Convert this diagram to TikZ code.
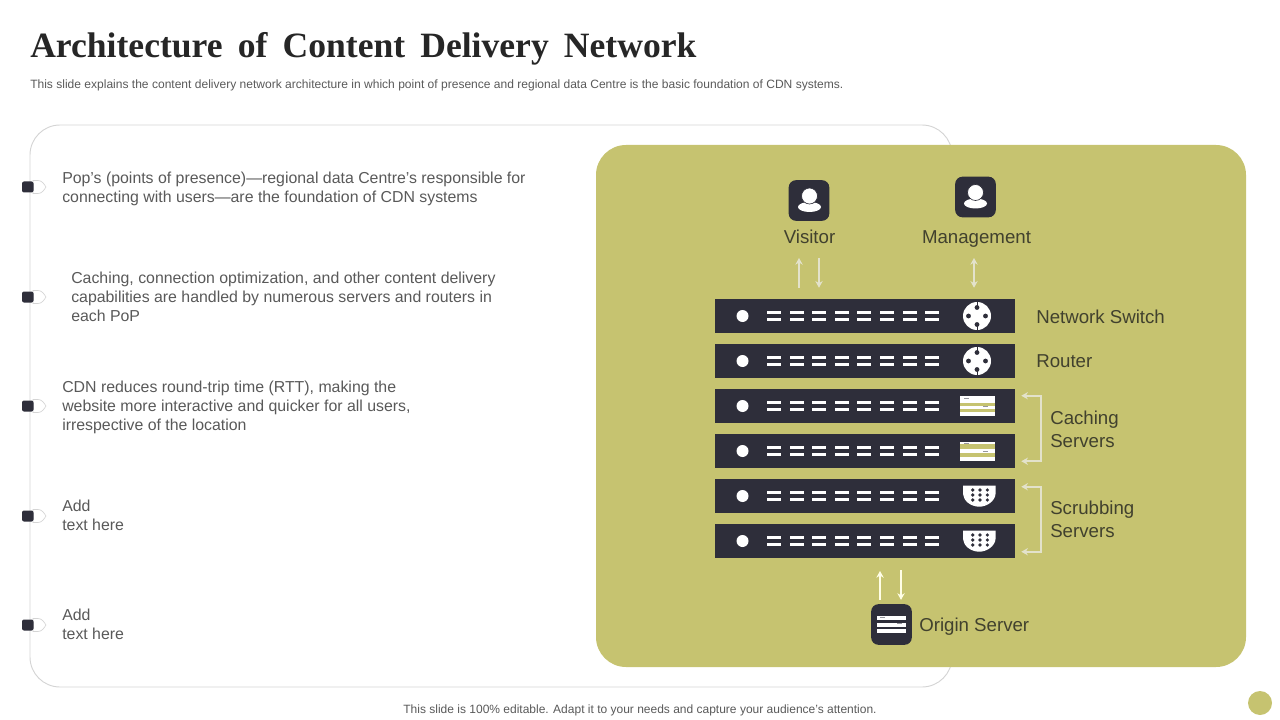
\documentclass[tikz,border=0pt]{standalone}
\usepackage{fontspec}
\usetikzlibrary{arrows.meta}
\setmainfont{Liberation Sans}
\newfontfamily\titlefont[WordSpace=1.7]{Liberation Serif}
\newcommand{\apos}{\symbol{39}}
\definecolor{inkdark}{HTML}{2E2E3A}
\definecolor{olivepanel}{HTML}{C6C370}
\definecolor{bodygray}{HTML}{595959}
\definecolor{labelink}{HTML}{41412E}
\definecolor{palearrow}{HTML}{E3E2CB}
\tikzset{
  bodytext/.style={anchor=north west,inner sep=0pt,align=left,text=bodygray,font=\fontsize{11.9}{14.25}\selectfont},
  paneltext/.style={inner sep=0pt,align=left,text=labelink,font=\fontsize{14}{17.25}\selectfont},
  rackbox/.style={fill=inkdark,minimum width=225pt,minimum height=25.5pt,inner sep=0pt},
  iconbox/.style={fill=inkdark,rounded corners=5.5pt,minimum width=30.5pt,minimum height=30.5pt,inner sep=0pt},
  flow/.style={draw=palearrow,line width=1.4pt,>={Stealth[width=5.5pt,length=5pt]}},
  whiteflow/.style={draw=white!90!yellow,line width=1.4pt,>={Stealth[width=5.5pt,length=5pt]}},
}
\begin{document}
\begin{tikzpicture}[x=0.75pt,y=-0.75pt]
  \useasboundingbox (0,0) rectangle (1280,720);

  \node[anchor=west,inner sep=0pt,text=black!85,font=\titlefont\bfseries\fontsize{26.7}{30}\selectfont] (title) at (30,49) {Architecture of Content Delivery Network};
  \node[anchor=west,inner sep=0pt,text=bodygray,font=\fontsize{9.03}{11}\selectfont] (subtitle) at (30,85) {This slide explains the content delivery network architecture in which point of presence and regional data Centre is the basic foundation of CDN systems.};
  \node[inner sep=0pt,text=bodygray,font=\fontsize{9}{11}\selectfont] (footer) at (640,710) {This slide is 100\% editable. Adapt it to your needs and capture your audience\apos s attention.};
  \fill[olivepanel] (1260,703) circle [radius=12];

  % left frame and panel
  \draw[black!17,line width=0.7pt,rounded corners=22.5pt] (30,125) rectangle (952,687);
  \fill[olivepanel,rounded corners=22.5pt] (596,145) rectangle (1246,667);

  % bullets
  \foreach \y in {187,297,406,516,625}{
    \draw[black!17,fill=white,line width=0.5pt] (33,\y-6.5) -- (38,\y-6.5) .. controls (42,\y-6.5) and (44,\y-3) .. (46,\y) .. controls (44,\y+3) and (42,\y+6.5) .. (38,\y+6.5) -- (33,\y+6.5) -- cycle;
    \fill[inkdark,rounded corners=1.5pt] (22,\y-5.5) rectangle (33.5,\y+5.5);
  }

  \node[bodytext] (popA) at (62,172) {Pop\apos s (points of presence)---regional data Centre\apos s responsible for\\connecting with users---are the foundation of CDN systems};
  \node[bodytext] (popB) at (71,272) {Caching, connection optimization, and other content delivery\\capabilities are handled by numerous servers and routers in\\each PoP};
  \node[bodytext] (popC) at (62,381) {CDN reduces round-trip time (RTT), making the\\website more interactive and quicker for all users,\\irrespective of the location};
  \node[bodytext] (popD) at (62,500) {Add\\text here};
  \node[bodytext] (popE) at (62,609) {Add\\text here};

  % racks
  \foreach \i/\y in {1/316,2/361,3/406,4/451,5/496,6/541}{
    \node[rackbox] (rack\i) at (865,\y) {};
    \fill[white] (742.5,\y) circle [radius=6];
    \foreach \k in {0,...,7}{
      \fill[white] (767+22.6*\k,\y-5.2) rectangle ++(14,3.6);
      \fill[white] (767+22.6*\k,\y+1.6) rectangle ++(14,3.6);
    }
  }

  % switch icons
  \foreach \y in {316,361}{
    \fill[white] (977,\y) circle [radius=14];
    \foreach \a in {0,90,180,270}{
      \fill[inkdark] (977,\y) ++(\a:8.5) circle [radius=2.4];
    }
    \draw[inkdark,line width=0.5pt] (977,\y-14) -- (977,\y-9) (977,\y+9) -- (977,\y+14);
  }

  % server icons
  \foreach \y/\ya/\yb/\yc/\yd in {406/-10/-3.5/0/3,451/-9.3/-6.6/-2/2.3}{
    \fill[olivepanel] (960,\y+\ya) rectangle (995,\y+10);
    \fill[white] (960,\y+\ya) rectangle (995,\y+\yb);
    \fill[white] (960,\y+\yc) rectangle (995,\y+\yd);
    \fill[white] (960,\y+6) rectangle (995,\y+10);
    \fill[inkdark!50] (964,\y-8) rectangle ++(5,1);
    \fill[inkdark!50] (983,\y) rectangle ++(5,1);
  }

  % shield icons
  \foreach \y in {496,541}{
    \fill[white] (963,\y-10.3) -- (995.5,\y-10.3) -- (995.5,\y-2) .. controls (995,\y+5) and (987,\y+10.7) .. (979.3,\y+10.7) .. controls (971,\y+10.7) and (963.5,\y+5) .. (963,\y-2) -- cycle;
    \foreach \r in {-6,-1,4}{
      \foreach \c in {972.7,980,987.3}{
        \fill[inkdark] (\c,\y+\r) circle [radius=1.8];
      }
    }
  }

  % top and bottom boxes
  \node[iconbox] (visitorBox) at (809,200.5) {};
  \node[iconbox] (managementBox) at (975.5,197) {};
  \node[iconbox] (originBox) at (891.5,624.5) {};
  \foreach \x/\y in {809.5/196,975.5/192.5}{
    \fill[white] (\x,\y+11) ellipse [x radius=11.5,y radius=5];
    \draw[inkdark,fill=white,line width=0.5pt] (\x,\y) circle [radius=8];
  }
  \foreach \y in {616,622.7,629.3}{
    \fill[white] (877,\y) rectangle (906,\y+4);
  }
  \fill[inkdark!50] (880,616.5) rectangle ++(5,1);
  \fill[inkdark!50] (897,623.2) rectangle ++(5,1);

  \node[paneltext] (visitorLabel) at (809.5,237) {Visitor};
  \node[paneltext] (managementLabel) at (976.5,239) {Management};
  \node[paneltext,anchor=west] (switchLabel) at (1036,316.5) {Network Switch};
  \node[paneltext,anchor=west] (routerLabel) at (1036,361.5) {Router};
  \node[paneltext,anchor=west] (cachingLabel) at (1050,429) {Caching\\Servers};
  \node[paneltext,anchor=west] (scrubbingLabel) at (1050,519) {Scrubbing\\Servers};
  \node[paneltext,anchor=west] (originLabel) at (919,627) {Origin Server};

  % connectors
  \coordinate (visitorUp) at (799,258);
  \coordinate (visitorDown) at (819,258);
  \coordinate (managementTop) at (974,258);
  \coordinate (originUp) at (880,571);
  \coordinate (originDown) at (901,570);
  \draw[flow,->] (visitorUp |- rack1.north) ++(0,-11) -- (visitorUp);
  \draw[flow,->] (visitorDown) -- ([yshift=8.25pt]visitorDown |- rack1.north);
  \draw[flow,<->] (managementTop) -- ([yshift=8.25pt]managementTop |- rack1.north);
  \draw[whiteflow,->] (originUp |- originBox.north) ++(0,-4) -- (originUp);
  \draw[whiteflow,->] (originDown) -- ([yshift=3pt]originDown |- originBox.north);

  \draw[flow,<->] ([xshift=4.5pt,yshift=-5.25pt]rack3.north east) -- ++(20,0) |- ([xshift=4.5pt,yshift=5.25pt]rack4.south east);
  \draw[flow,<->] ([xshift=4.5pt,yshift=-6pt]rack5.north east) -- ++(20,0) |- ([xshift=4.5pt,yshift=4.9pt]rack6.south east);
\end{tikzpicture}
\end{document}
